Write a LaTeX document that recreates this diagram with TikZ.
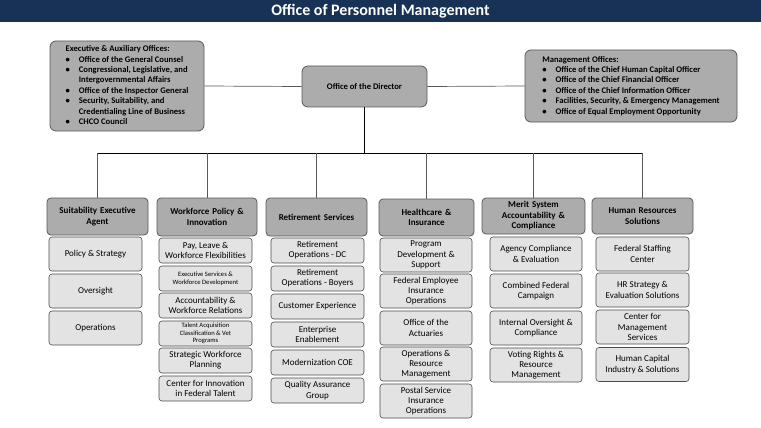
\documentclass[tikz,border=0pt]{standalone}
\usepackage{fontspec}
\setmainfont{Carlito}
\definecolor{opmnavy}{RGB}{23,50,84}
\begin{document}
\begin{tikzpicture}[x=1pt,y=-1pt,
    topbox/.style={draw=gray!70!black, fill=gray!65, rounded corners=6pt, line width=0.8pt, font=\fontsize{8.6}{10.4}\selectfont\bfseries},
    headbox/.style={draw=gray!70!black, fill=gray!65, rounded corners=4pt, line width=0.8pt, font=\fontsize{9}{10.5}\selectfont\bfseries, align=center, inner sep=1pt},
    itembox/.style={draw=gray!60!black, fill=gray!22, rounded corners=3pt, line width=0.6pt, font=\fontsize{9}{10.2}\selectfont, align=center, inner sep=1pt},
    link/.style={draw=gray!70!black, line width=0.7pt}]

    % Fond et bandeau
    \useasboundingbox (0,0) rectangle (761,428);
    \fill[white] (0,0) rectangle (761,428);
    \fill[opmnavy] (0,0) rectangle (761,22);
    \node[text=white, font=\fontsize{16}{18}\selectfont\bfseries] (title) at (380.5,11) {Office of Personnel Management};

    % Direction
    \node[topbox, minimum width=125pt, minimum height=41pt] (dir) at (364.5,86.5) {Office of the Director};
    \node[topbox, minimum width=154pt, minimum height=90pt, align=left, inner sep=3pt] (exec) at (127,86)
      {\begin{tabular}{@{}l@{\hspace{9pt}}l@{}}
        \multicolumn{2}{@{}l}{Executive \& Auxiliary Offices:}\\
        \textbullet & Office of the General Counsel\\
        \textbullet & Congressional, Legislative, and\\
                    & Intergovernmental Affairs\\
        \textbullet & Office of the Inspector General\\
        \textbullet & Security, Suitability, and\\
                    & Credentialing Line of Business\\
        \textbullet & CHCO Council
      \end{tabular}};
    \node[topbox, minimum width=212pt, minimum height=72pt, align=left, inner sep=3pt] (mgmt) at (631,86)
      {\begin{tabular}{@{}l@{\hspace{9pt}}l@{}}
        \multicolumn{2}{@{}l}{Management Offices:}\\
        \textbullet & Office of the Chief Human Capital Officer\\
        \textbullet & Office of the Chief Financial Officer\\
        \textbullet & Office of the Chief Information Officer\\
        \textbullet & Facilities, Security, \& Emergency Management\\
        \textbullet & Office of Equal Employment Opportunity
      \end{tabular}};

    % En-tetes des colonnes
    \node[headbox, minimum width=101pt, minimum height=37pt, text width=97pt] (suit) at (97.5,216.5) {Suitability Executive\\Agent};
    \node[headbox, minimum width=100pt, minimum height=38pt, text width=96pt] (work) at (207,217) {Workforce Policy \&\\Innovation};
    \node[headbox, minimum width=101pt, minimum height=38pt, text width=97pt] (ret) at (316.5,217) {Retirement Services};
    \node[headbox, minimum width=95pt, minimum height=37pt, text width=91pt] (health) at (426.5,217.5) {Healthcare \&\\Insurance};
    \node[headbox, minimum width=103pt, minimum height=36pt, text width=99pt] (merit) at (533.5,216) {Merit System\\Accountability \&\\Compliance};
    \node[headbox, minimum width=101pt, minimum height=36pt, text width=97pt] (hr) at (642.5,216) {Human Resources\\Solutions};

    % Liaisons
    \coordinate (bus) at (0,153);
    \draw[link] (exec.east) -- (dir.west);
    \draw[link] (dir.east) -- (mgmt.west);
    \draw[black, line width=1pt] (dir.south) -- (dir.south |- bus);
    \draw[black, line width=1pt] (suit.north |- bus) -- (hr.north |- bus);
    \foreach \h in {suit,work,ret,health,merit,hr}
      \draw[link] (\h.north) -- (\h.north |- bus);

    % Suitability
    \node[itembox, minimum width=93pt, minimum height=34pt] (s1) at (95.5,254) {Policy \& Strategy};
    \node[itembox, minimum width=93pt, minimum height=34pt] (s2) at (95.5,291) {Oversight};
    \node[itembox, minimum width=93pt, minimum height=34pt] (s3) at (95.5,328) {Operations};

    % Workforce
    \node[itembox, minimum width=93pt, minimum height=25pt] (w1) at (205.5,250.5) {Pay, Leave \&\\Workforce Flexibilities};
    \node[itembox, minimum width=93pt, minimum height=25pt, font=\fontsize{6.6}{8}\selectfont] (w2) at (205.5,278.5) {Executive Services \&\\Workforce Development};
    \node[itembox, minimum width=93pt, minimum height=25pt] (w3) at (205.5,305.5) {Accountability \&\\Workforce Relations};
    \node[itembox, minimum width=93pt, minimum height=25pt, font=\fontsize{6.6}{7.4}\selectfont] (w4) at (205.5,333.5) {Talent Acquisition\\Classification \& Vet\\Programs};
    \node[itembox, minimum width=93pt, minimum height=25pt] (w5) at (205.5,360.5) {Strategic Workforce\\Planning};
    \node[itembox, minimum width=93pt, minimum height=25pt] (w6) at (205.5,388.5) {Center for Innovation\\in Federal Talent};

    % Retirement
    \node[itembox, minimum width=93pt, minimum height=25pt] (r1) at (317.5,250.5) {Retirement\\Operations - DC};
    \node[itembox, minimum width=93pt, minimum height=25pt] (r2) at (317.5,278.5) {Retirement\\Operations - Boyers};
    \node[itembox, minimum width=93pt, minimum height=25pt] (r3) at (317.5,306.5) {Customer Experience};
    \node[itembox, minimum width=93pt, minimum height=25pt] (r4) at (317.5,334.5) {Enterprise\\Enablement};
    \node[itembox, minimum width=93pt, minimum height=25pt] (r5) at (317.5,362.5) {Modernization COE};
    \node[itembox, minimum width=93pt, minimum height=25pt] (r6) at (317.5,390.5) {Quality Assurance\\Group};

    % Healthcare
    \node[itembox, minimum width=92pt, minimum height=34pt] (c1) at (426,255) {Program\\Development \&\\Support};
    \node[itembox, minimum width=92pt, minimum height=34pt] (c2) at (426,291) {Federal Employee\\Insurance\\Operations};
    \node[itembox, minimum width=92pt, minimum height=34pt] (c3) at (426,328) {Office of the\\Actuaries};
    \node[itembox, minimum width=92pt, minimum height=34pt] (c4) at (426,364) {Operations \&\\Resource\\Management};
    \node[itembox, minimum width=92pt, minimum height=34pt] (c5) at (426,401) {Postal Service\\Insurance\\Operations};

    % Merit
    \node[itembox, minimum width=92pt, minimum height=34pt] (m1) at (536,254) {Agency Compliance\\\& Evaluation};
    \node[itembox, minimum width=92pt, minimum height=34pt] (m2) at (536,291) {Combined Federal\\Campaign};
    \node[itembox, minimum width=92pt, minimum height=34pt] (m3) at (536,328) {Internal Oversight \&\\Compliance};
    \node[itembox, minimum width=92pt, minimum height=34pt] (m4) at (536,365) {Voting Rights \&\\Resource\\Management};

    % Human Resources
    \node[itembox, minimum width=93pt, minimum height=34pt] (h1) at (642.5,254) {Federal Staffing\\Center};
    \node[itembox, minimum width=93pt, minimum height=34pt] (h2) at (642.5,290) {HR Strategy \&\\Evaluation Solutions};
    \node[itembox, minimum width=93pt, minimum height=34pt] (h3) at (642.5,327) {Center for\\Management\\Services};
    \node[itembox, minimum width=93pt, minimum height=34pt] (h4) at (642.5,364.5) {Human Capital\\Industry \& Solutions};

\end{tikzpicture}
\end{document}
